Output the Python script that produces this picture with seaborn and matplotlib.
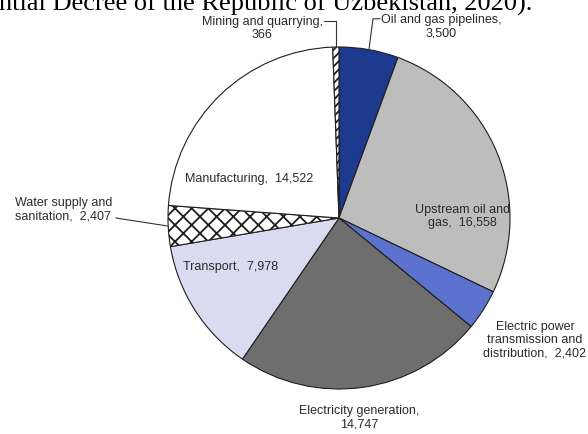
import matplotlib
matplotlib.use('Agg')
import matplotlib.pyplot as plt
import seaborn as sns
import numpy as np

# investment by sector, clockwise from 12 o'clock
sectors = ['Oil and gas pipelines', 'Upstream oil and gas',
           'Electric power transmission and distribution', 'Electricity generation',
           'Transport', 'Water supply and sanitation', 'Manufacturing',
           'Mining and quarrying']
values = [3500, 16558, 2402, 14747, 7978, 2407, 14522, 366]
labels = ['Oil and gas pipelines,\n3,500',
          'Upstream oil and\ngas,  16,558',
          'Electric power\ntransmission and\ndistribution,  2,402',
          'Electricity generation,\n14,747',
          'Transport,  7,978',
          'Water supply and\nsanitation,  2,407',
          'Manufacturing,  14,522',
          'Mining and quarrying,\n366']
colors = ['#1d3a8f', '#bdbdbd', '#5b73cf', '#6e6e6e', '#d9dcf0', 'white', 'white', 'white']
hatches = ['', '', '', '', '', 'xx', '', '////']

heading = 'ntial Decree of the Republic of Uzbekistan, 2020).'

# label placement in pie units (radius = 1)
label_pos = {
    'Oil and gas pipelines': (0.60, 1.125, 'center'),
    'Upstream oil and gas': (0.72, 0.015, 'center'),
    'Electric power transmission and distribution': (1.146, -0.708, 'center'),
    'Electricity generation': (0.117, -1.164, 'center'),
    'Transport': (-0.632, -0.281, 'center'),
    'Water supply and sanitation': (-1.895, 0.056, 'left'),
    'Manufacturing': (-0.526, 0.234, 'center'),
    'Mining and quarrying': (-0.45, 1.115, 'center'),
}

sns.set_theme(style='white')
plt.rcParams['font.family'] = ['Liberation Sans', 'DejaVu Sans']
plt.rcParams['hatch.linewidth'] = 1.3

fig = plt.figure(figsize=(5.88, 4.35), dpi=100)
fig.patch.set_facecolor('white')
ax = fig.add_axes([168 / 588, 45 / 435, 342 / 588, 342 / 435])

wedges, _ = ax.pie(values, colors=colors, startangle=90, counterclock=False,
                   wedgeprops={'edgecolor': '#1e1e1e', 'linewidth': 0.8})
for w, h in zip(wedges, hatches):
    w.set_clip_on(False)
    if h:
        w.set_hatch(h)
ax.set_xlim(-1, 1)
ax.set_ylim(-1, 1)
ax.set_aspect('equal')
ax.axis('off')

txt_color = '#2a2a2a'
for s, lab in zip(sectors, labels):
    x, y, ha = label_pos[s]
    ax.text(x, y, lab, ha=ha, va='center', fontsize=9, color=txt_color,
            linespacing=1.15, clip_on=False)


def edge_point(w):
    mid = np.deg2rad((w.theta1 + w.theta2) / 2)
    return np.cos(mid), np.sin(mid)


# leader lines
wx, wy = edge_point(wedges[sectors.index('Mining and quarrying')])
ax.plot([-0.088, wx, wx], [1.152, 1.152, wy], color='#333333', lw=0.8, clip_on=False)
wx, wy = edge_point(wedges[sectors.index('Oil and gas pipelines')])
ax.plot([0.24, 0.199, wx], [1.165, 1.165, wy], color='#333333', lw=0.8, clip_on=False)
wx, wy = edge_point(wedges[sectors.index('Water supply and sanitation')])
ax.plot([-1.304, wx], [0.0, wy], color='#333333', lw=0.8, clip_on=False)

fig.text(-0.002, (435 - 10.5) / 435, heading, family='Liberation Serif', fontsize=19,
         color='black', va='baseline', ha='left')

fig.savefig('out.png', dpi=100)
